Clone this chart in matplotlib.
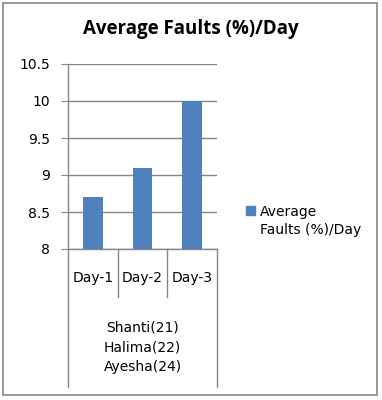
import matplotlib
matplotlib.use("Agg")
import matplotlib.pyplot as plt
from matplotlib.patches import Rectangle

# data
days = ["Day-1", "Day-2", "Day-3"]
faults = [8.7, 9.1, 10.0]
group_label = "Shanti(21)\nHalima(22)\nAyesha(24)"
series_name = "Average\nFaults (%)/Day"
title = "Average Faults (%)/Day"
yticks = [8, 8.5, 9, 9.5, 10, 10.5]

grey = "#868686"
blue = "#4f81bd"

fig = plt.figure(figsize=(3.82, 4.0), dpi=100)
fig.add_artist(Rectangle((0.008, 0.012), 0.98, 0.98, transform=fig.transFigure,
                         fill=False, edgecolor=grey, linewidth=1.2))

ax = fig.add_axes([0.178, 0.3775, 0.39, 0.4625])
x = list(range(len(days)))
ax.bar(x, faults, width=0.4, color=blue, zorder=3)
ax.set_xlim(-0.5, len(days) - 0.5)
ax.set_ylim(8, 10.5)
ax.set_yticks(yticks)
ax.set_yticklabels(["8", "8.5", "9", "9.5", "10", "10.5"], fontsize=10,
                   family="DejaVu Sans")
ax.yaxis.grid(True, color=grey, linewidth=1)
ax.tick_params(axis="y", length=5, color=grey, pad=8)
ax.tick_params(axis="x", length=0)
ax.set_xticks([])
for s in ["top", "right"]:
    ax.spines[s].set_visible(False)
for s in ["left", "bottom"]:
    ax.spines[s].set_color(grey)
    ax.spines[s].set_linewidth(1)

# category dividers and group box
tr = ax.get_xaxis_transform()
for b in [0.5, 1.5]:
    ax.plot([b, b], [0, -0.26], transform=tr, color=grey, lw=1, clip_on=False)
for b in [-0.5, 2.5]:
    ax.plot([b, b], [0, -0.745], transform=tr, color=grey, lw=1, clip_on=False)
for i, d in enumerate(days):
    ax.text(i, -0.155, d, transform=tr, ha="center", va="center",
            fontsize=10, family="DejaVu Sans")
ax.text(1, -0.53, group_label, transform=tr, ha="center", va="center",
        fontsize=10, family="DejaVu Sans", linespacing=1.55)

fig.text(0.5, 0.927, title, ha="center", va="center", fontsize=13.5,
         fontweight="bold", family="Open Sans")

# legend
fig.add_artist(Rectangle((246 / 382, 1 - 215 / 400), 9 / 382, 9 / 400,
                         transform=fig.transFigure, color=blue))
fig.text(260 / 382, 1 - 221 / 400, series_name, ha="left", va="center",
         fontsize=10, family="DejaVu Sans", linespacing=1.45)

fig.savefig("out.png", dpi=100)
